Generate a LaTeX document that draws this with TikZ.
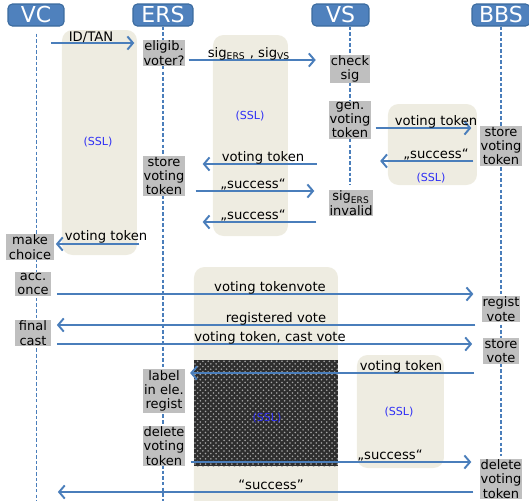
\documentclass[tikz,border=0pt]{standalone}
\usepackage{fontspec}
\setmainfont{DejaVu Sans}
\usetikzlibrary{arrows.meta,patterns}

\definecolor{hdblue}{HTML}{4F81BD}
\definecolor{hdedge}{HTML}{3B6A9E}
\definecolor{msgblue}{HTML}{4A7EBB}
\definecolor{sslbeige}{HTML}{EEECE1}
\definecolor{boxgray}{HTML}{BFBFBF}
\definecolor{sslblue}{HTML}{2F2FF5}

\tikzset{
    actor/.style={fill=hdblue, draw=hdedge, line width=0.6pt, rounded corners=2.5pt,
        text=white, font=\fontsize{12.5}{12.5}\selectfont, minimum height=0.44cm, inner sep=0pt},
    life/.style={draw=msgblue, line width=0.8pt, dash pattern=on 2pt off 1.2pt},
    sslbox/.style={fill=sslbeige, rounded corners=6pt},
    stepbox/.style={fill=boxgray, align=center, inner sep=0.5pt,
        font=\fontsize{7.4}{8.2}\selectfont, minimum width=0.74cm},
    msg/.style={draw=msgblue, line width=1.1pt, -{Straight Barb[length=3.2pt,width=7.5pt]}},
    lbl/.style={font=\fontsize{7.5}{8}\selectfont, anchor=base, inner sep=0pt},
    ssl/.style={text=sslblue, font=\fontsize{6.3}{6.5}\selectfont}
}

\begin{document}
\begin{tikzpicture}[x=0.02cm, y=-0.02cm]
    \useasboundingbox (0,0) rectangle (529,501);

    % SSL channels
    \fill[sslbox] (62,30) rectangle (137,255);
    \fill[sslbox] (213,35) rectangle (288,236);
    \fill[sslbox] (388,104) rectangle (477,185);
    \fill[sslbox] (194,267) rectangle (338,512);
    \fill[sslbox] (357,355) rectangle (444,468);
    \fill[black!82] (194,360) rectangle (338,466);
    \fill[pattern=crosshatch dots, pattern color=gray!70] (194,360) rectangle (338,466);

    % actors
    \node[actor, minimum width=1.12cm] (vc) at (36,15) {VC};
    \node[actor, minimum width=1.2cm] (ers) at (163,15) {ERS};
    \node[actor, minimum width=1.14cm] (vs) at (340.5,15) {VS};
    \node[actor, minimum width=1.16cm] (bbs) at (501,15) {BBS};

    % lifelines
    \coordinate (bot) at (0,501);
    \coordinate (vsend) at (350,184);
    \coordinate (bbsend) at (501,456);
    \draw[life, line width=0.5pt] ([yshift=-0.14cm]vc.south) -- (vc.south |- bot);
    \draw[life] (ers.south) -- (ers.south |- bot);
    \draw[life] (vsend |- vs.south) -- (vsend);
    \draw[life] (bbs.south) -- (bbsend);

    % steps
    \node[stepbox] (elig) at (164,53) {eligib.\\voter?};
    \node[stepbox] (check) at (350,69) {check\\sig};
    \node[stepbox] (gen) at (350,120) {gen.\\voting\\token};
    \node[stepbox] (storeE) at (164,176) {store\\voting\\token};
    \node[stepbox] (sigInv) at (351,203) {sig\textsubscript{ERS}\\invalid};
    \node[stepbox] (storeB) at (501,146) {store\\voting\\token};
    \node[stepbox, minimum width=0.98cm] (choice) at (30,247) {make\\choice};
    \node[stepbox] (once) at (33,284) {acc.\\once};
    \node[stepbox] (cast) at (33,333) {final\\cast};
    \node[stepbox] (regist) at (501,309) {regist\\vote};
    \node[stepbox] (storeV) at (501,351) {store\\vote};
    \node[stepbox] (labelE) at (164,391) {label\\in ele.\\regist};
    \node[stepbox] (delE) at (164,446) {delete\\voting\\token};
    \node[stepbox] (delB) at (501,479) {delete\\voting\\token};

    % messages
    \coordinate (idtan) at (51,43);
    \coordinate (sigrow) at (0,60);
    \coordinate (tokrow) at (0,128);
    \coordinate (okrow) at (0,161);
    \coordinate (backrow) at (0,164);
    \coordinate (ok2row) at (0,191);
    \coordinate (ok3row) at (0,222);
    \coordinate (choicerow) at (0,244);
    \coordinate (voterow) at (0,294);
    \coordinate (regrow) at (0,325);
    \coordinate (castrow) at (0,344);
    \coordinate (labelrow) at (0,373);
    \coordinate (delrow) at (0,462);
    \coordinate (endrow) at (0,492);

    \draw[msg, shorten >=0.16cm] (idtan) -- (idtan -| elig.west);
    \draw[msg, shorten <=0.06cm, shorten >=0.28cm] (elig.east |- sigrow) -- (check.west |- sigrow);
    \draw[msg, shorten <=0.08cm, shorten >=0.16cm] (gen.east |- tokrow) -- (storeB.west |- tokrow);
    \draw[msg, shorten <=0.12cm, shorten >=0.17cm] (storeB.west |- okrow) -- (gen.east |- okrow);
    \draw[msg, shorten <=0.23cm, shorten >=0.34cm] (gen.west |- backrow) -- (storeE.east |- backrow);
    \draw[msg, shorten <=0.2cm, shorten >=0.28cm] (storeE.east |- ok2row) -- (sigInv.west |- ok2row);
    \draw[msg, shorten <=0.24cm, shorten >=0.34cm] (sigInv.west |- ok3row) -- (storeE.east |- ok3row);
    \draw[msg, shorten <=0.06cm, shorten >=0.02cm] (storeE.west |- choicerow) -- (choice.east |- choicerow);
    \draw[msg, shorten <=0.1cm, shorten >=0.16cm] (once.east |- voterow) -- (regist.west |- voterow);
    \draw[msg, shorten <=0.12cm, shorten >=0.1cm] (regist.west |- regrow) -- (cast.east |- regrow);
    \draw[msg, shorten <=0.1cm, shorten >=0.2cm] (cast.east |- castrow) -- (storeV.west |- castrow);
    \draw[msg, shorten <=0.16cm, shorten >=0.1cm] (storeV.west |- labelrow) -- (labelE.east |- labelrow);
    \draw[msg, shorten <=0.1cm, shorten >=0.16cm] (delE.east |- delrow) -- (delB.west |- delrow);
    \draw[msg, shorten <=0.12cm, shorten >=0.12cm] (delB.west |- endrow) -- (cast.east |- endrow);

    % labels
    \node[lbl] (l-idtan) at (91,41) {ID/TAN};
    \node[lbl] (l-sig) at (249,57) {sig\textsubscript{ERS} , sig\textsubscript{VS}};
    \node[lbl] (l-tok) at (436,125) {voting token};
    \node[lbl] (l-ok) at (436,158) {„success“};
    \node[lbl] (l-back) at (263,161) {voting token};
    \node[lbl] (l-ok2) at (253,188) {„success“};
    \node[lbl] (l-ok3) at (253,219) {„success“};
    \node[lbl] (l-choice) at (106,240) {voting token};
    \node[lbl] (l-vote) at (270,291) {voting tokenvote};
    \node[lbl] (l-reg) at (276,322) {registered vote};
    \node[lbl] (l-cast) at (270,341) {voting token, cast vote};
    \node[lbl] (l-label) at (401,370) {voting token};
    \node[lbl] (l-del) at (390,459) {„success“};
    \node[lbl] (l-end) at (271,489) {“success”};

    % SSL marks
    \node[ssl] (s1) at (98,142) {(SSL)};
    \node[ssl] (s2) at (250,116) {(SSL)};
    \node[ssl] (s3) at (431,178) {(SSL)};
    \node[ssl] (s4) at (267,418) {(SSL)};
    \node[ssl] (s5) at (399,412) {(SSL)};
\end{tikzpicture}
\end{document}
